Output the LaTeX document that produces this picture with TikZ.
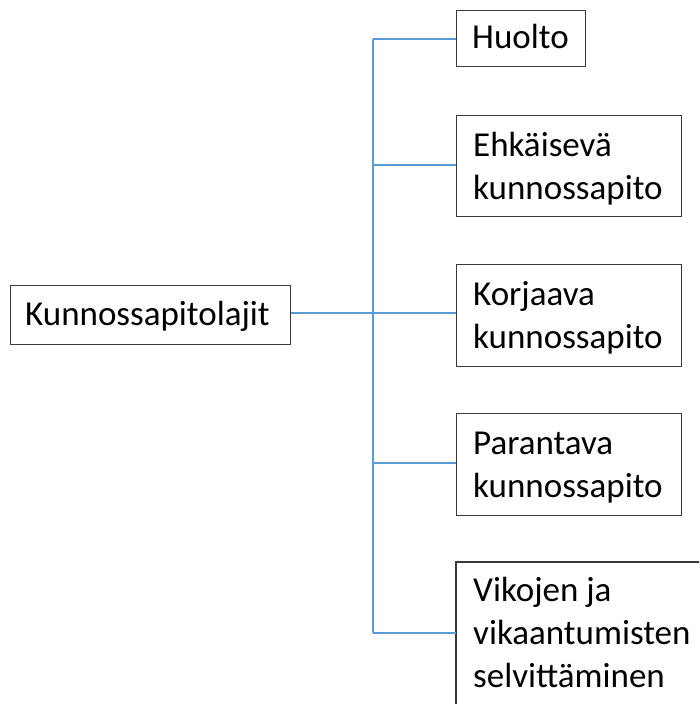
\documentclass[tikz,border=0pt]{standalone}
\usepackage{fontspec}
\setmainfont{Carlito}
\begin{document}
\begin{tikzpicture}[x=1pt,y=-1pt,
  boxstyle/.style={draw=boxgray,line width=1.4pt,inner sep=0pt,anchor=north west},
  txt/.style={inner sep=0pt,anchor=base west,align=left,font=\fontsize{35}{43}\selectfont},
  conn/.style={draw=connblue,line width=1.4pt}]
\definecolor{boxgray}{HTML}{3A3A3A}
\definecolor{connblue}{HTML}{5B9BD5}
\useasboundingbox (0,0) rectangle (699,704);
\clip (0,0) rectangle (699,704);
% boxes
\node[boxstyle,minimum width=280pt,minimum height=59pt] (root) at (10,285) {};
\node[boxstyle,minimum width=129pt,minimum height=56pt] (huolto) at (456,10) {};
\node[boxstyle,minimum width=225pt,minimum height=101pt] (ehk) at (456,115) {};
\node[boxstyle,minimum width=225pt,minimum height=102pt] (kor) at (456,264) {};
\node[boxstyle,minimum width=225pt,minimum height=102pt] (par) at (456,413) {};
\node[inner sep=0pt,anchor=north west,minimum width=270pt,minimum height=142pt] (vik) at (456,562) {};
\draw[draw=boxgray,line width=1.4pt] (vik.south west) -- (vik.north west) -- (vik.north east);
% texts (base anchor = baseline of last line)
\node[txt] (troot) at (25,325) {Kunnossapitolajit};
\node[txt] (thuolto) at (472,48) {Huolto};
\node[txt] (tehk) at (473,199) {Ehkäisevä\\kunnossapito};
\node[txt] (tkor) at (473,348) {Korjaava\\kunnossapito};
\node[txt] (tpar) at (473,497) {Parantava\\kunnossapito};
\node[txt] (tvik) at (473,687) {Vikojen ja\\vikaantumisten\\selvittäminen};
% connectors
\coordinate (ttop) at (373,39);
\coordinate (tbot) at (373,633);
\coordinate (tmid) at (373,313);
\path[conn] (ttop) -- (tbot);
\path[conn] (root.east |- tmid) -- (kor.west |- tmid);
\path[conn] (ttop) -- (huolto.west |- ttop);
\path[conn] (373,165) coordinate (t2) -- (ehk.west |- t2);
\path[conn] (373,463) coordinate (t4) -- (par.west |- t4);
\path[conn] (tbot) -- (vik.west |- tbot);
\end{tikzpicture}
\end{document}
